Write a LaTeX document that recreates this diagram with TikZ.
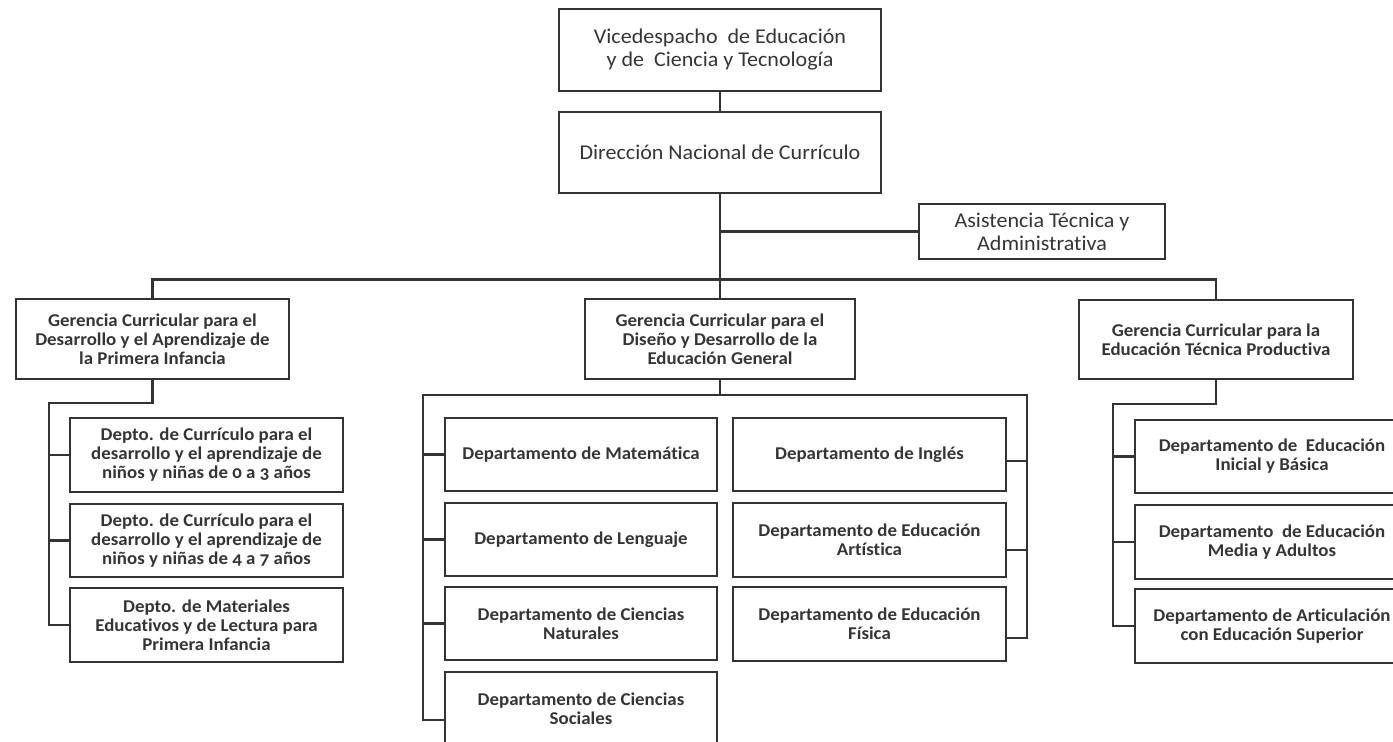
\documentclass[tikz,border=0pt]{standalone}
\usepackage{fontspec}
\setmainfont{Carlito}[FakeStretch=1.05,Numbers=OldStyle,RawFeature=-liga]
\begin{document}
\begin{tikzpicture}[x=1pt,y=-1pt,
  box/.style={draw=lin,line width=2pt,rectangle,inner sep=0pt,align=center,text=txt},
  topbox/.style={box,font=\fontsize{21}{23}\selectfont},
  smallbox/.style={box,font=\fontsize{18}{19}\selectfont\bfseries},
  conn/.style={draw=lin,line width=2.2pt}]
\definecolor{lin}{HTML}{333333}
\definecolor{txt}{HTML}{353535}
\fill[white] (0,0) rectangle (1393,742);
\useasboundingbox (0,0) rectangle (1393,742);
% top levels
\node[topbox,minimum width=322pt,minimum height=82pt] (vice) at (720,50) {Vicedespacho\ \ de Educación\\y de\ \ Ciencia y Tecnología};
\node[topbox,minimum width=322pt,minimum height=81pt] (dir) at (720,152.5) {Dirección Nacional de Currículo};
\node[topbox,minimum width=246pt,minimum height=55pt] (asis) at (1042,231.5) {Asistencia Técnica y\\Administrativa};
% gerencias
\node[smallbox,minimum width=273pt,minimum height=80pt] (ger1) at (152.5,339) {Gerencia Curricular para el\\Desarrollo y el Aprendizaje de\\la Primera Infancia};
\node[smallbox,minimum width=270pt,minimum height=80pt] (ger2) at (720,339) {Gerencia Curricular para el\\Diseño y Desarrollo de la\\Educación General};
\node[smallbox,minimum width=274pt,minimum height=79pt] (ger3) at (1216,339.5) {Gerencia Curricular para la\\Educación Técnica Productiva};
% left departments
\node[smallbox,minimum width=273pt,minimum height=74pt] (d11) at (206.5,455) {Depto. de Currículo para el\\desarrollo y el aprendizaje de\\niños y niñas de 0 a 3 años};
\node[smallbox,minimum width=273pt,minimum height=73pt] (d12) at (206.5,540.5) {Depto. de Currículo para el\\desarrollo y el aprendizaje de\\niños y niñas de 4 a 7 años};
\node[smallbox,minimum width=273pt,minimum height=74pt] (d13) at (206.5,625) {Depto. de Materiales\\Educativos y de Lectura para\\Primera Infancia};
% middle departments
\node[smallbox,minimum width=272pt,minimum height=73pt] (mat) at (581,454.5) {Departamento de Matemática};
\node[smallbox,minimum width=272pt,minimum height=73pt] (len) at (581,539.5) {Departamento de Lenguaje};
\node[smallbox,minimum width=272pt,minimum height=73pt] (nat) at (581,623.5) {Departamento de Ciencias\\Naturales};
\node[smallbox,minimum width=272pt,minimum height=73pt] (soc) at (581,708.5) {Departamento de Ciencias\\Sociales};
\node[smallbox,minimum width=273pt,minimum height=73pt] (ing) at (869.5,454.5) {Departamento de Inglés};
\node[smallbox,minimum width=273pt,minimum height=74pt] (art) at (869.5,540) {Departamento de Educación\\Artística};
\node[smallbox,minimum width=273pt,minimum height=74pt] (fis) at (869.5,624) {Departamento de Educación\\Física};
% right departments
\node[smallbox,minimum width=274pt,minimum height=73pt] (r1) at (1272,456.5) {Departamento de\ \ Educación\\Inicial y Básica};
\node[smallbox,minimum width=274pt,minimum height=74pt] (r2) at (1272,542) {Departamento\ \ de Educación\\Media y Adultos};
\node[smallbox,minimum width=274pt,minimum height=74pt] (r3) at (1272,626) {Departamento de Articulación\\con Educación Superior};
% coordinates for buses
\coordinate (bus) at (0,279.5);
\coordinate (lbus) at (49,403);
\coordinate (mbus) at (423,395);
\coordinate (mrbus) at (1027,395);
\coordinate (rbus) at (1113,404);
% connectors top
\draw[conn] (vice.south) -- (dir.north);
\draw[conn] (dir.south) -- (ger2.north);
\draw[conn] (dir.south |- asis.west) -- (asis.west);
\draw[conn] (ger1.north) -- (ger1.north |- bus) -- (ger3.north |- bus) -- (ger3.north);
% left group
\draw[conn] (ger1.south) -- (ger1.south |- lbus) -- (lbus) |- (d13.west);
\draw[conn] (lbus |- d11.west) -- (d11.west);
\draw[conn] (lbus |- d12.west) -- (d12.west);
% middle group
\draw[conn] (ger2.south) -- (ger2.south |- mbus);
\draw[conn] ([yshift=-11.5pt]soc.west) -| (mbus) -- (mrbus) |- ([yshift=-14pt]fis.east);
\draw[conn] (mbus |- mat.west) -- (mat.west);
\draw[conn] (mbus |- len.west) -- (len.west);
\draw[conn] (mbus |- nat.west) -- (nat.west);
\draw[conn] ([yshift=-6.5pt]ing.east) -- ([yshift=-6.5pt]ing.east -| mrbus);
\draw[conn] ([yshift=-10pt]art.east) -- ([yshift=-10pt]art.east -| mrbus);
% right group
\draw[conn] (ger3.south) -- (ger3.south |- rbus) -- (rbus) |- (r3.west);
\draw[conn] (rbus |- r1.west) -- (r1.west);
\draw[conn] (rbus |- r2.west) -- (r2.west);
\end{tikzpicture}
\end{document}
